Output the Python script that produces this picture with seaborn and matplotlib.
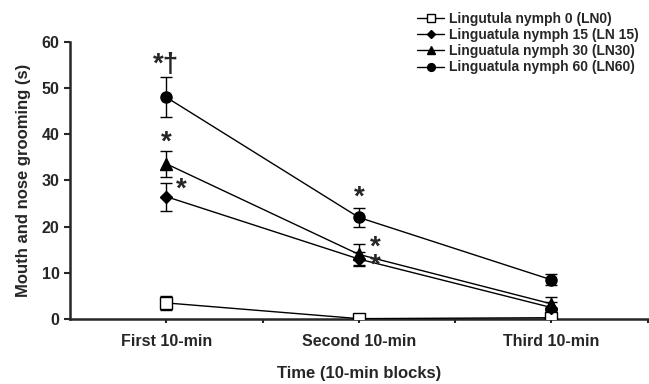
import pandas as pd
import matplotlib.pyplot as plt
import seaborn as sns

# Data
blocks = ["First 10-min", "Second 10-min", "Third 10-min"]
groups = ["Lingutula nymph 0 (LN0)", "Linguatula nymph 15 (LN 15)",
          "Linguatula nymph 30 (LN30)", "Linguatula nymph 60 (LN60)"]
ln0 = [3.5, 0.1, 0.3]
ln15 = [26.5, 13.0, 2.5]
ln30 = [33.6, 14.0, 3.3]
ln60 = [48.0, 22.0, 8.5]
ln0_err = [1.5, 0.3, 0.5]
ln15_err = [3.0, 1.5, 1.2]
ln30_err = [2.8, 2.3, 1.5]
ln60_err = [4.3, 2.0, 1.2]

means = [ln0, ln15, ln30, ln60]
errs = [ln0_err, ln15_err, ln30_err, ln60_err]
rows = []
for g, m, e in zip(groups, means, errs):
    for i, b in enumerate(blocks):
        rows.append({"group": g, "block": i, "mean": m[i], "err": e[i]})
df = pd.DataFrame(rows)

sns.set_style("ticks")
plt.rcParams["font.family"] = ["Liberation Sans", "DejaVu Sans"]
plt.rcParams["font.weight"] = "bold"

fig = plt.figure(figsize=(6.49, 3.84), dpi=100)
ax = fig.add_axes([0.108, 0.169, 0.89, 0.722])

markers = {"Lingutula nymph 0 (LN0)": "s", "Linguatula nymph 15 (LN 15)": "D",
           "Linguatula nymph 30 (LN30)": "^", "Linguatula nymph 60 (LN60)": "o"}
sizes = {"Lingutula nymph 0 (LN0)": 8, "Linguatula nymph 15 (LN 15)": 6,
         "Linguatula nymph 30 (LN30)": 8, "Linguatula nymph 60 (LN60)": 8}
faces = {"Lingutula nymph 0 (LN0)": "white"}

for g in groups:
    d = df[df["group"] == g]
    ax.errorbar(d["block"], d["mean"], yerr=d["err"], fmt="none", ecolor="black",
                elinewidth=1, capsize=4, capthick=1, zorder=2)
    sns.lineplot(data=d, x="block", y="mean", ax=ax, color="black", lw=1,
                 marker=markers[g], markersize=sizes[g],
                 markerfacecolor=faces.get(g, "black"), markeredgecolor="black",
                 markeredgewidth=1, label=g, zorder=3)

# significance marks
star = dict(ha="center", va="center", fontsize=20, fontweight="bold")
ax.text(0, 55.0, "*†", **star)
ax.text(0, 38.3, "*", **star)
ax.text(0.075, 28.0, "*", **star)
ax.text(1, 26.2, "*", **star)
ax.text(1.085, 15.4, "*", **star)
ax.text(1.085, 11.6, "*", **star)

ax.set_xlim(-0.5, 2.5)
ax.set_ylim(0, 60)
ax.set_xticks([0, 1, 2])
ax.set_xticks([0.5, 1.5, 2.5], minor=True)
ax.set_xticklabels(blocks, fontsize=11.5, fontweight="bold")
ax.set_yticks(range(0, 61, 10))
ax.tick_params(axis="y", labelsize=11.5, length=4, width=1.5)
ax.tick_params(axis="x", which="both", length=3, width=1.5, pad=8)
ax.set_xlabel("Time (10-min blocks)", fontsize=12, fontweight="bold", labelpad=12)
ax.set_ylabel("Mouth and nose grooming (s)", fontsize=12, fontweight="bold", labelpad=8)
for lab in ax.get_yticklabels():
    lab.set_fontweight("bold")
sns.despine(ax=ax)
for s in ["left", "bottom"]:
    ax.spines[s].set_linewidth(1.8)

ax.legend(loc="upper left", bbox_to_anchor=(0.6, 1.107), frameon=False,
          fontsize=10, handlelength=2.0, handletextpad=0.3, labelspacing=0.15,
          borderaxespad=0, borderpad=0, markerscale=0.7)

fig.savefig("out.png", dpi=100)
